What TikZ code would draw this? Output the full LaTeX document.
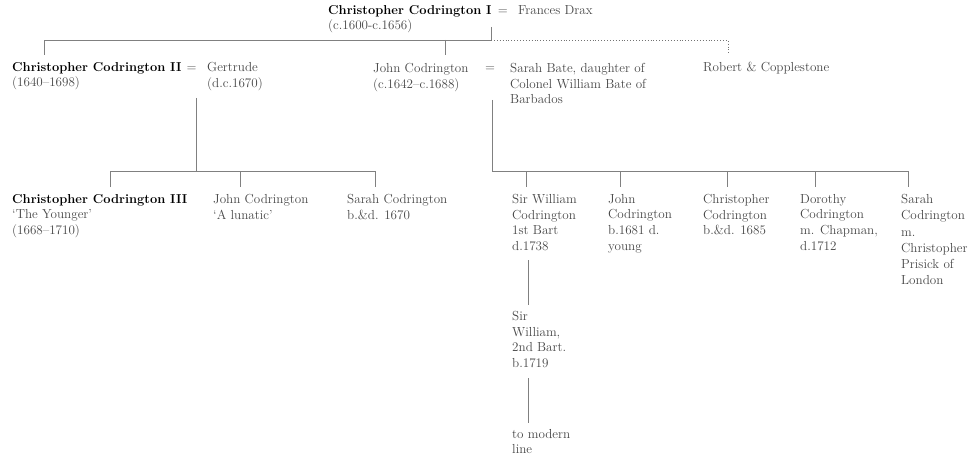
\documentclass[tikz,border=0pt]{standalone}
\usepackage{fontspec}
\newcommand\bn[1]{{\fontsize{12.9}{15.5}\selectfont\bfseries\color{black}#1}}
\begin{document}
\begin{tikzpicture}[x=1pt,y=-1pt,
  txt/.style={anchor=north west, inner sep=0pt, align=left,
    font=\fontsize{13.1}{15.7}\selectfont, text=black!72},
  one/.style={txt, anchor=base west},
  ln/.style={draw=black!50, line width=0.9pt},
  dl/.style={draw=black!55, line width=0.9pt, dotted}]
\useasboundingbox (0,0) rectangle (973,465);
% generation 1
\node[one] (cc1) at (328,15) {\bn{Christopher Codrington I}\hspace{2pt} =\hspace{6pt} Frances Drax};
\node[one] (cc1d) at (328,30) {(c.1600-c.1656)};
% generation 2
\node[txt] (cc2) at (12,62) {\bn{Christopher Codrington II}\hspace{1pt} =\\(1640--1698)};
\node[txt] (gert) at (207,62) {Gertrude\\(d.c.1670)};
\node[txt] (jc1) at (373,63) {John Codrington\\(c.1642--c.1688)};
\node[one] (eq2) at (485,72) {=};
\node[txt] (sb) at (510,63) {Sarah Bate, daughter of\\Colonel William Bate of\\Barbados};
\node[one] (rob) at (703,72) {Robert \& Copplestone};
% generation 3 (left)
\node[txt] (cc3) at (12,194) {\bn{Christopher Codrington III}\\`The Younger'\\(1668--1710)};
\node[txt] (jl) at (213,194) {John Codrington\\`A lunatic'};
\node[txt] (sc) at (347,194) {Sarah Codrington\\b.\&d. 1670};
% generation 3 (right)
\node[txt] (sw1) at (512,194) {Sir William\\Codrington\\1st Bart\\d.1738};
\node[txt] (jc2) at (608,194) {John\\Codrington\\b.1681 d.\\young};
\node[txt] (chc) at (703,194) {Christopher\\Codrington\\b.\&d. 1685};
\node[txt] (dc) at (800,194) {Dorothy\\Codrington\\m. Chapman,\\d.1712};
\node[txt, font=\fontsize{13.1}{16.3}\selectfont] (sac) at (901,194) {Sarah\\Codrington\\m.\\Christopher\\Prisick of\\London};
\node[txt] (sw2) at (512,311) {Sir\\William,\\2nd Bart.\\b.1719};
\node[txt] (tml) at (512,429) {to modern\\line};
% junction coordinates
\coordinate (m1) at (491,27);
\coordinate (b1) at (491,40);
\coordinate (b1l) at (44,40);
\coordinate (b1j) at (445,40);
\coordinate (b1r) at (728,40);
\coordinate (t1l) at (44,55);
\coordinate (t1j) at (445,55);
\coordinate (t1r) at (728,55);
\coordinate (m2) at (196,98);
\coordinate (b2) at (196,171);
\coordinate (b2a) at (110,171);
\coordinate (b2b) at (240,171);
\coordinate (b2c) at (375,171);
\coordinate (t2a) at (110,187);
\coordinate (t2b) at (240,187);
\coordinate (t2c) at (375,187);
\coordinate (m3) at (492,100);
\coordinate (b3) at (492,171);
\coordinate (b3a) at (526,171);
\coordinate (b3b) at (620,171);
\coordinate (b3c) at (727,171);
\coordinate (b3d) at (815,171);
\coordinate (b3e) at (908,171);
\coordinate (t3a) at (526,187);
\coordinate (t3b) at (620,187);
\coordinate (t3c) at (727,187);
\coordinate (t3d) at (815,187);
\coordinate (t3e) at (908,187);
\coordinate (s1) at (528,260);
\coordinate (s2) at (528,305);
\coordinate (s3) at (528,378);
\coordinate (s4) at (528,423);
% connectors
\draw[ln] (m1) -- (b1) -- (b1l) -- (t1l);
\draw[ln] (b1j) -- (t1j);
\draw[dl] (b1) -- (b1r) -- (t1r);
\draw[ln] (m2) -- (b2);
\draw[ln] (t2a) -- (b2a) -- (b2c) -- (t2c);
\draw[ln] (b2b) -- (t2b);
\draw[ln] (m3) -- (b3) -- (b3e) -- (t3e);
\draw[ln] (b3a) -- (t3a);
\draw[ln] (b3b) -- (t3b);
\draw[ln] (b3c) -- (t3c);
\draw[ln] (b3d) -- (t3d);
\draw[ln] (s1) -- (s2);
\draw[ln] (s3) -- (s4);
\end{tikzpicture}
\end{document}
